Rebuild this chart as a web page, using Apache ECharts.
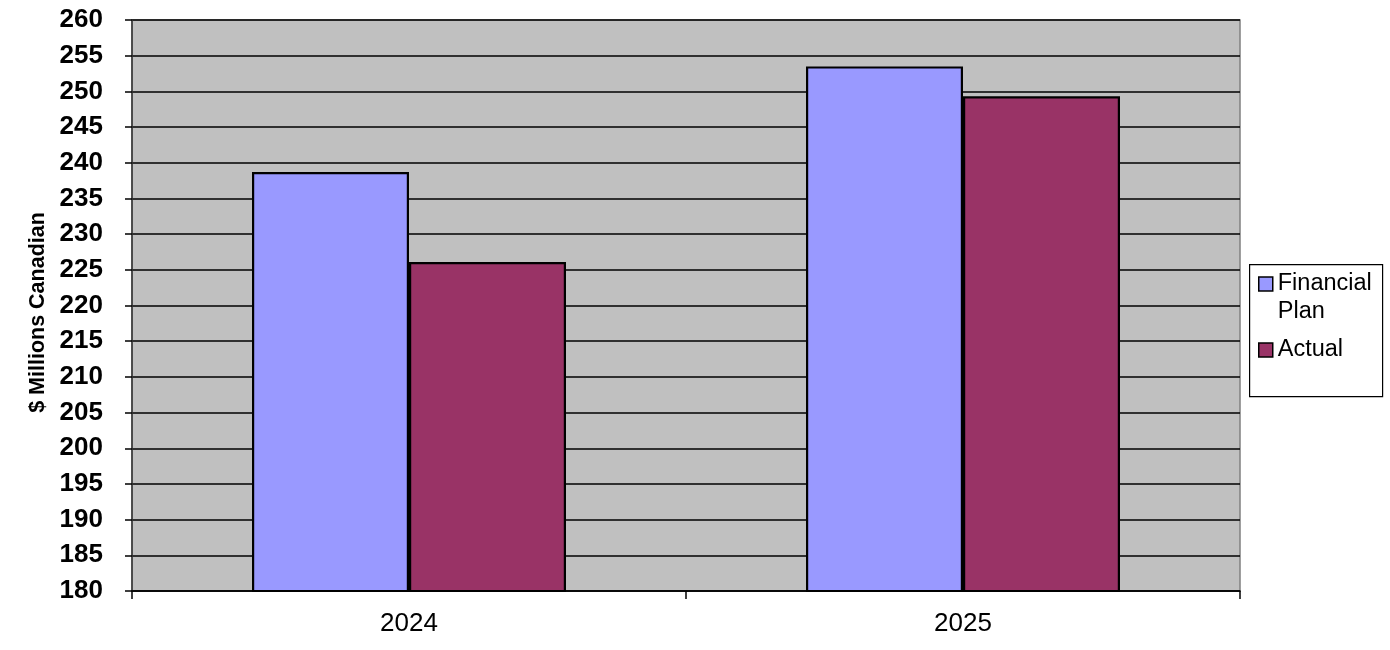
<!DOCTYPE html>
<html>
<head>
<meta charset="utf-8">
<script src="https://cdn.jsdelivr.net/npm/echarts@6/dist/echarts.min.js"></script>
<style>
html,body{margin:0;padding:0;background:#fff;}
#chart{width:1390px;height:650px;}
</style>
</head>
<body>
<div id="chart"></div>
<script>
const categories = ['2024', '2025'];
const financialPlan = [238.7, 253.5];
const actual = [226.1, 249.3];
const seriesNames = ['Financial Plan', 'Actual'];
const yTicks = { min: 180, max: 260, step: 5 };

const FONT = '"Liberation Sans", Arial, sans-serif';
const chart = echarts.init(document.getElementById('chart'));
chart.setOption({
  animation: false,
  backgroundColor: '#fff',
  grid: {
    left: 132, right: 150, top: 20, bottom: 59,
    show: true, backgroundColor: '#C0C0C0', borderColor: '#808080', borderWidth: 1.5
  },
  graphic: [{
    type: 'rect', left: 1249, top: 264,
    shape: { width: 133, height: 132 },
    style: { fill: '#fff', stroke: '#000', lineWidth: 1.2 },
    z: 0
  }],
  legend: {
    orient: 'vertical',
    left: 1258, top: 242,
    padding: 0,
    itemGap: 10,
    itemWidth: 14, itemHeight: 14,
    icon: 'rect',
    data: seriesNames,
    itemStyle: { borderColor: '#000', borderWidth: 1.5 },
    textStyle: { fontFamily: FONT, fontSize: 23.5, color: '#000', lineHeight: 28 },
    formatter: function (name) {
      return name === 'Financial Plan' ? '\nFinancial\nPlan' : name;
    },
    z: 5
  },
  xAxis: {
    type: 'category',
    data: categories,
    axisLine: { lineStyle: { color: '#000', width: 1.5 } },
    axisTick: { show: true, length: 8, lineStyle: { color: '#000', width: 1.5 } },
    axisLabel: { fontFamily: FONT, fontSize: 26, color: '#000', margin: 20 },
    splitLine: { show: false }
  },
  yAxis: {
    type: 'value',
    min: yTicks.min, max: yTicks.max, interval: yTicks.step,
    name: '$ Millions Canadian',
    nameLocation: 'middle',
    nameGap: 82,
    nameTextStyle: { fontFamily: FONT, fontSize: 21.5, fontWeight: 'bold', color: '#000', padding: [0, 14, 0, 0] },
    axisLine: { show: true, lineStyle: { color: '#333', width: 1.5 } },
    axisTick: { show: true, length: 7, lineStyle: { color: '#000', width: 1.5 } },
    axisLabel: { fontFamily: FONT, fontSize: 26, fontWeight: 'bold', color: '#000', margin: 29 },
    splitLine: { show: true, lineStyle: { color: '#000', width: 1.5 } }
  },
  series: [
    {
      name: seriesNames[0], type: 'bar', data: financialPlan,
      barWidth: 157, barGap: '0%',
      itemStyle: { color: '#9999FF', borderColor: '#000', borderWidth: 2.2 }
    },
    {
      name: seriesNames[1], type: 'bar', data: actual,
      barWidth: 157, barGap: '0%',
      itemStyle: { color: '#993366', borderColor: '#000', borderWidth: 2.2 }
    }
  ]
});
</script>
</body>
</html>
